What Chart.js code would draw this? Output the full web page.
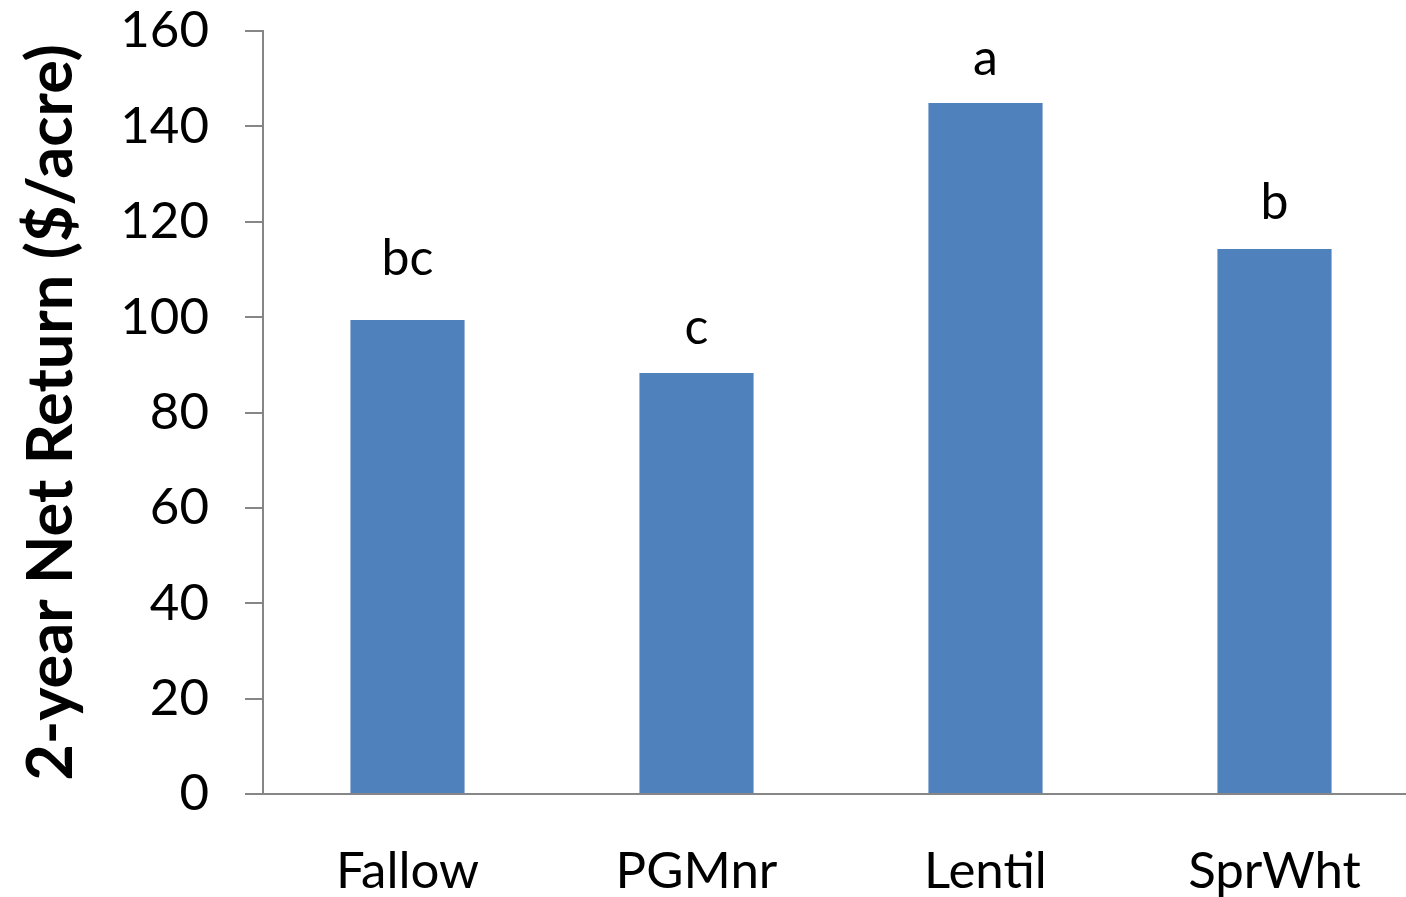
<!DOCTYPE html>
<html>
<head>
<meta charset="utf-8">
<script src="https://cdn.jsdelivr.net/npm/chart.js@4"></script>
<style>
  html, body { margin: 0; padding: 0; background: #fff; overflow: hidden; }
  #wrap { width: 1419px; height: 897px; position: relative; }
</style>
</head>
<body>
<div id="wrap"><canvas id="c"></canvas></div>
<script>
const categories = ["Fallow", "PGMnr", "Lentil", "SprWht"];
const netReturn = [99.4, 88.3, 144.9, 114.3];
const sigLetters = ["bc", "c", "a", "b"];
const yTicks = [0, 20, 40, 60, 80, 100, 120, 140, 160];

const FONT = "Lato, 'Open Sans', sans-serif";
const AXIS = "#868686";

const letterPlugin = {
  id: "sigLetters",
  afterDatasetsDraw(chart, args, opts) {
    const ctx = chart.ctx;
    const meta = chart.getDatasetMeta(0);
    ctx.save();
    ctx.font = opts.font;
    ctx.fillStyle = "#000";
    ctx.textAlign = "center";
    ctx.textBaseline = "alphabetic";
    meta.data.forEach((bar, i) => {
      ctx.fillText(sigLetters[i], bar.x, bar.y - opts.gaps[i]);
    });
    ctx.restore();
  }
};

new Chart(document.getElementById("c"), {
  type: "bar",
  data: {
    labels: categories,
    datasets: [{
      data: netReturn,
      backgroundColor: "#4F81BD",
      borderWidth: 0,
      barPercentage: 0.395,
      categoryPercentage: 1.0
    }]
  },
  options: {
    responsive: true,
    maintainAspectRatio: false,
    animation: false,
    devicePixelRatio: 1,
    layout: { padding: { top: 0, right: 0, left: 0, bottom: 0 } },
    plugins: {
      legend: { display: false },
      tooltip: { enabled: false },
      sigLetters: { font: "50px " + FONT, gaps: [45, 29, 28, 30] }
    },
    scales: {
      x: {
        grid: { display: false, drawTicks: false },
        border: { display: true, color: AXIS, width: 2 },
        ticks: { color: "#000", font: { family: FONT, size: 51 }, padding: 47 },
        afterFit(s) { s.height = 103; }
      },
      y: {
        min: 0, max: 160,
        afterBuildTicks(s) { s.ticks = yTicks.map(v => ({ value: v })); },
        grid: { display: true, drawOnChartArea: false, drawTicks: true, tickLength: 18, color: AXIS, lineWidth: 2 },
        border: { display: true, color: AXIS, width: 2 },
        ticks: { color: "#000", font: { family: FONT, size: 51 }, padding: 36 },
        title: {
          display: true,
          text: "2-year Net Return ($/acre)",
          color: "#000",
          font: { family: FONT, size: 63, weight: "bold" },
          padding: { top: 14, bottom: 0 }
        },
        afterFit(s) { s.width = 263; s.paddingTop = 31; s.paddingBottom = 0; }
      }
    }
  },
  plugins: [letterPlugin]
});
</script>
</body>
</html>
